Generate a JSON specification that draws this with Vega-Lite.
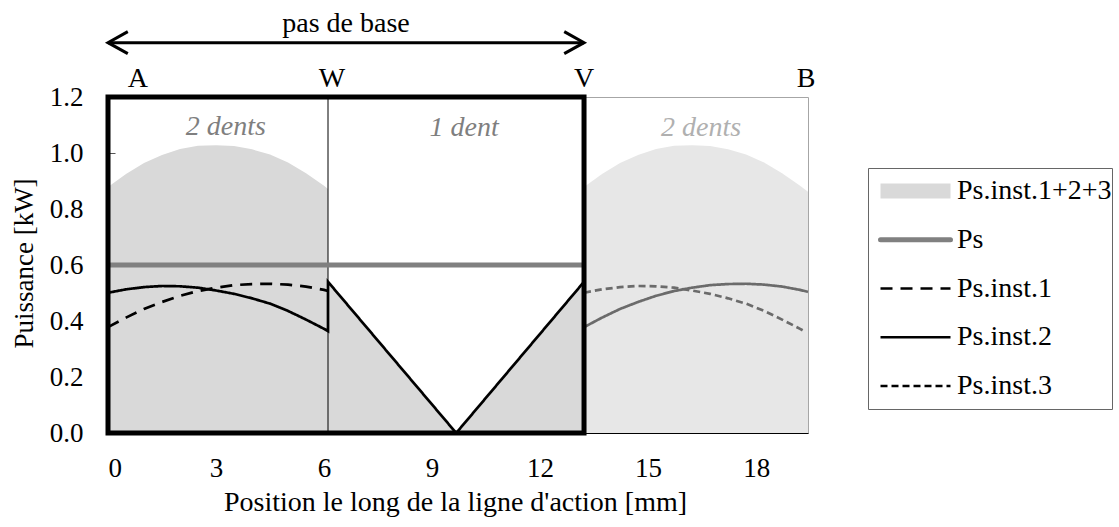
{
  "$schema": "https://vega.github.io/schema/vega-lite/v6.json",
  "width": 700,
  "height": 336,
  "autosize": {"type": "none"},
  "padding": {"left": 108, "top": 97, "right": 311, "bottom": 94},
  "background": "white",
  "config": {
    "view": {"stroke": "#a6a6a6", "strokeWidth": 1},
    "font": "Liberation Serif",
    "legend": {
      "orient": "none", "legendX": 760, "legendY": 71, "padding": 0,
      "symbolType": "stroke", "symbolSize": 4900, "clipHeight": 46, "rowPadding": 2.75,
      "symbolOffset": 5, "labelOffset": -1, "labelFont": "Liberation Serif", "labelFontSize": 28,
      "labelColor": "black", "strokeColor": "#666666", "fillColor": "white", "labelLimit": 400
    }
  },
  "encoding": {
    "x": {
      "field": "x", "type": "quantitative",
      "scale": {"domain": [0, 19.44], "nice": false, "zero": false},
      "axis": {
        "values": [0, 3, 6, 9, 12, 15, 18], "format": "d", "grid": false,
        "tickSize": -7, "tickColor": "#777777", "labelPadding": 29,
        "labelFont": "Liberation Serif", "labelFontSize": 27, "labelColor": "black",
        "domainColor": "black", "domainWidth": 1,
        "title": "Position le long de la ligne d'action [mm]",
        "titleFont": "Liberation Serif", "titleFontSize": 28, "titleFontWeight": "normal", "titleColor": "black",
        "titleX": 347, "titleY": 77, "titleBaseline": "alphabetic", "titleAlign": "center"
      }
    },
    "y": {
      "field": "y", "type": "quantitative",
      "scale": {"domain": [0, 1.2], "nice": false},
      "axis": {
        "values": [0, 0.2, 0.4, 0.6, 0.8, 1.0, 1.2], "format": ".1f", "grid": false,
        "tickSize": -7, "tickColor": "#555555", "labelPadding": 32, "domain": false,
        "labelFont": "Liberation Serif", "labelFontSize": 27, "labelColor": "black",
        "title": "Puissance [kW]",
        "titleFont": "Liberation Serif", "titleFontSize": 27, "titleFontWeight": "normal", "titleColor": "black",
        "titleX": -76, "titleY": 166, "titleAngle": 270, "titleBaseline": "alphabetic", "titleAlign": "center"
      }
    }
  },
  "layer": [
    {
      "data": {"values": [
        {"x": 0, "y": 0.879}, {"x": 0.5, "y": 0.925}, {"x": 1, "y": 0.964},
        {"x": 1.5, "y": 0.993}, {"x": 2, "y": 1.014}, {"x": 2.5, "y": 1.026},
        {"x": 3, "y": 1.028}, {"x": 3.5, "y": 1.025}, {"x": 4, "y": 1.013},
        {"x": 4.5, "y": 0.995}, {"x": 5, "y": 0.966}, {"x": 5.5, "y": 0.928},
        {"x": 6, "y": 0.883}, {"x": 6.11, "y": 0.871}, {"x": 6.111, "y": 0.54},
        {"x": 9.67, "y": 0}, {"x": 13.22, "y": 0.54}
      ]},
      "mark": {"type": "area", "fill": "#d9d9d9"}
    },
    {
      "data": {"values": [
        {"x": 13.22, "y": 0.879}, {"x": 13.72, "y": 0.925}, {"x": 14.22, "y": 0.964},
        {"x": 14.72, "y": 0.993}, {"x": 15.22, "y": 1.014}, {"x": 15.72, "y": 1.026},
        {"x": 16.22, "y": 1.028}, {"x": 16.72, "y": 1.025}, {"x": 17.22, "y": 1.013},
        {"x": 17.72, "y": 0.995}, {"x": 18.22, "y": 0.966}, {"x": 18.72, "y": 0.928},
        {"x": 19.22, "y": 0.883}, {"x": 19.44, "y": 0.862}
      ]},
      "mark": {"type": "area", "fill": "#e7e7e7"}
    },
    {
      "data": {"values": [{"x": 6.11, "y": 0, "y2": 1.2}]},
      "mark": {"type": "rule", "color": "black", "strokeWidth": 1},
      "encoding": {"y2": {"field": "y2"}}
    },
    {
      "data": {"values": [
        {"s": "Ps", "g": "ps", "k": 0, "x": 0, "y": 0.6},
        {"s": "Ps", "g": "ps", "k": 1, "x": 13.22, "y": 0.6},
        {"s": "Ps.inst.1", "g": "i1", "k": 0, "x": 0, "y": 0.378},
        {"s": "Ps.inst.1", "g": "i1", "k": 1, "x": 0.5, "y": 0.412},
        {"s": "Ps.inst.1", "g": "i1", "k": 2, "x": 1, "y": 0.443},
        {"s": "Ps.inst.1", "g": "i1", "k": 3, "x": 1.5, "y": 0.468},
        {"s": "Ps.inst.1", "g": "i1", "k": 4, "x": 2, "y": 0.49},
        {"s": "Ps.inst.1", "g": "i1", "k": 5, "x": 2.5, "y": 0.507},
        {"s": "Ps.inst.1", "g": "i1", "k": 6, "x": 3, "y": 0.519},
        {"s": "Ps.inst.1", "g": "i1", "k": 7, "x": 3.5, "y": 0.528},
        {"s": "Ps.inst.1", "g": "i1", "k": 8, "x": 4, "y": 0.532},
        {"s": "Ps.inst.1", "g": "i1", "k": 9, "x": 4.5, "y": 0.533},
        {"s": "Ps.inst.1", "g": "i1", "k": 10, "x": 5, "y": 0.53},
        {"s": "Ps.inst.1", "g": "i1", "k": 11, "x": 5.5, "y": 0.523},
        {"s": "Ps.inst.1", "g": "i1", "k": 12, "x": 6, "y": 0.511},
        {"s": "Ps.inst.1", "g": "i1", "k": 13, "x": 6.11, "y": 0.507},
        {"s": "Ps.inst.2", "g": "i2", "k": 0, "x": 0, "y": 0.501},
        {"s": "Ps.inst.2", "g": "i2", "k": 1, "x": 0.5, "y": 0.513},
        {"s": "Ps.inst.2", "g": "i2", "k": 2, "x": 1, "y": 0.521},
        {"s": "Ps.inst.2", "g": "i2", "k": 3, "x": 1.5, "y": 0.525},
        {"s": "Ps.inst.2", "g": "i2", "k": 4, "x": 2, "y": 0.524},
        {"s": "Ps.inst.2", "g": "i2", "k": 5, "x": 2.5, "y": 0.519},
        {"s": "Ps.inst.2", "g": "i2", "k": 6, "x": 3, "y": 0.509},
        {"s": "Ps.inst.2", "g": "i2", "k": 7, "x": 3.5, "y": 0.497},
        {"s": "Ps.inst.2", "g": "i2", "k": 8, "x": 4, "y": 0.481},
        {"s": "Ps.inst.2", "g": "i2", "k": 9, "x": 4.5, "y": 0.462},
        {"s": "Ps.inst.2", "g": "i2", "k": 10, "x": 5, "y": 0.436},
        {"s": "Ps.inst.2", "g": "i2", "k": 11, "x": 5.5, "y": 0.405},
        {"s": "Ps.inst.2", "g": "i2", "k": 12, "x": 6, "y": 0.372},
        {"s": "Ps.inst.2", "g": "i2", "k": 13, "x": 6.11, "y": 0.364},
        {"s": "Ps.inst.2", "g": "i2", "k": 14, "x": 6.11, "y": 0.54},
        {"s": "Ps.inst.2", "g": "i2", "k": 15, "x": 9.67, "y": 0},
        {"s": "Ps.inst.2", "g": "i2", "k": 16, "x": 13.22, "y": 0.54}
      ]},
      "mark": {"type": "line", "strokeCap": "butt"},
      "encoding": {
        "color": {
          "field": "s", "type": "nominal",
          "scale": {"domain": ["Ps.inst.1+2+3", "Ps", "Ps.inst.1", "Ps.inst.2", "Ps.inst.3"],
                    "range": ["#d9d9d9", "#808080", "#000000", "#000000", "#000000"]},
          "legend": {"title": null, "encode": {"symbols": {"update": {"strokeCap": {"signal": "datum.value === 'Ps' ? 'round' : 'butt'"}}}}}
        },
        "strokeDash": {
          "field": "s", "type": "nominal",
          "scale": {"domain": ["Ps.inst.1+2+3", "Ps", "Ps.inst.1", "Ps.inst.2", "Ps.inst.3"],
                    "range": [[1, 0], [1, 0], [12, 8], [1, 0], [7, 4]]},
          "legend": {"title": null}
        },
        "strokeWidth": {
          "field": "s", "type": "nominal",
          "scale": {"type": "ordinal", "domain": ["Ps.inst.1+2+3", "Ps", "Ps.inst.1", "Ps.inst.2", "Ps.inst.3"],
                    "range": [15, 5, 2.7, 2.7, 2.7]},
          "legend": {"title": null}
        },
        "detail": {"field": "g"},
        "order": {"field": "k", "type": "quantitative"}
      }
    },
    {
      "data": {"values": [
        {"s": "Ps.inst.2", "g": "f2", "k": 0, "x": 13.22, "y": 0.378},
        {"s": "Ps.inst.2", "g": "f2", "k": 1, "x": 13.72, "y": 0.412},
        {"s": "Ps.inst.2", "g": "f2", "k": 2, "x": 14.22, "y": 0.443},
        {"s": "Ps.inst.2", "g": "f2", "k": 3, "x": 14.72, "y": 0.468},
        {"s": "Ps.inst.2", "g": "f2", "k": 4, "x": 15.22, "y": 0.49},
        {"s": "Ps.inst.2", "g": "f2", "k": 5, "x": 15.72, "y": 0.507},
        {"s": "Ps.inst.2", "g": "f2", "k": 6, "x": 16.22, "y": 0.519},
        {"s": "Ps.inst.2", "g": "f2", "k": 7, "x": 16.72, "y": 0.528},
        {"s": "Ps.inst.2", "g": "f2", "k": 8, "x": 17.22, "y": 0.532},
        {"s": "Ps.inst.2", "g": "f2", "k": 9, "x": 17.72, "y": 0.533},
        {"s": "Ps.inst.2", "g": "f2", "k": 10, "x": 18.22, "y": 0.53},
        {"s": "Ps.inst.2", "g": "f2", "k": 11, "x": 18.72, "y": 0.523},
        {"s": "Ps.inst.2", "g": "f2", "k": 12, "x": 19.22, "y": 0.511},
        {"s": "Ps.inst.2", "g": "f2", "k": 13, "x": 19.44, "y": 0.504},
        {"s": "Ps.inst.3", "g": "f3", "k": 0, "x": 13.22, "y": 0.501},
        {"s": "Ps.inst.3", "g": "f3", "k": 1, "x": 13.72, "y": 0.513},
        {"s": "Ps.inst.3", "g": "f3", "k": 2, "x": 14.22, "y": 0.521},
        {"s": "Ps.inst.3", "g": "f3", "k": 3, "x": 14.72, "y": 0.525},
        {"s": "Ps.inst.3", "g": "f3", "k": 4, "x": 15.22, "y": 0.524},
        {"s": "Ps.inst.3", "g": "f3", "k": 5, "x": 15.72, "y": 0.519},
        {"s": "Ps.inst.3", "g": "f3", "k": 6, "x": 16.22, "y": 0.509},
        {"s": "Ps.inst.3", "g": "f3", "k": 7, "x": 16.72, "y": 0.497},
        {"s": "Ps.inst.3", "g": "f3", "k": 8, "x": 17.22, "y": 0.481},
        {"s": "Ps.inst.3", "g": "f3", "k": 9, "x": 17.72, "y": 0.462},
        {"s": "Ps.inst.3", "g": "f3", "k": 10, "x": 18.22, "y": 0.436},
        {"s": "Ps.inst.3", "g": "f3", "k": 11, "x": 18.72, "y": 0.405},
        {"s": "Ps.inst.3", "g": "f3", "k": 12, "x": 19.22, "y": 0.372},
        {"s": "Ps.inst.3", "g": "f3", "k": 13, "x": 19.33, "y": 0.364}
      ]},
      "mark": {"type": "line", "stroke": "#6b6b6b", "strokeCap": "butt"},
      "encoding": {
        "strokeDash": {
          "field": "s", "type": "nominal",
          "scale": {"domain": ["Ps.inst.1+2+3", "Ps", "Ps.inst.1", "Ps.inst.2", "Ps.inst.3"],
                    "range": [[1, 0], [1, 0], [12, 8], [1, 0], [7, 4]]},
          "legend": {"title": null}
        },
        "strokeWidth": {
          "field": "s", "type": "nominal",
          "scale": {"type": "ordinal", "domain": ["Ps.inst.1+2+3", "Ps", "Ps.inst.1", "Ps.inst.2", "Ps.inst.3"],
                    "range": [15, 5, 2.7, 2.7, 2.7]},
          "legend": {"title": null}
        },
        "detail": {"field": "g"},
        "order": {"field": "k", "type": "quantitative"}
      }
    },
    {
      "data": {"values": [{"x": 0, "x2": 13.22, "y": 0, "y2": 1.2}]},
      "mark": {"type": "rect", "fill": "white", "fillOpacity": 0, "stroke": "black", "strokeWidth": 5, "strokeJoin": "miter"},
      "encoding": {"x2": {"field": "x2"}, "y2": {"field": "y2"}}
    },
    {
      "data": {"values": [
        {"t": "2 dents", "x": 3.27, "y": 1.066},
        {"t": "1 dent", "x": 9.89, "y": 1.062}
      ]},
      "mark": {"type": "text", "font": "Liberation Serif", "fontStyle": "italic", "fontSize": 28, "color": "#7f7f7f", "align": "center", "baseline": "alphabetic"},
      "encoding": {"text": {"field": "t"}}
    },
    {
      "data": {"values": [
        {"t": "2 dents", "x": 16.47, "y": 1.06}
      ]},
      "mark": {"type": "text", "font": "Liberation Serif", "fontStyle": "italic", "fontSize": 28, "color": "#b0b0b0", "align": "center", "baseline": "alphabetic"},
      "encoding": {"text": {"field": "t"}}
    },
    {
      "data": {"values": [
        {"t": "A", "x": 0.83, "y": 1.236},
        {"t": "W", "x": 6.22, "y": 1.236},
        {"t": "V", "x": 13.22, "y": 1.236},
        {"t": "B", "x": 19.39, "y": 1.236},
        {"t": "pas de base", "x": 6.61, "y": 1.432}
      ]},
      "mark": {"type": "text", "font": "Liberation Serif", "fontSize": 28, "color": "black", "align": "center", "baseline": "alphabetic"},
      "encoding": {"text": {"field": "t"}}
    },
    {
      "data": {"values": [{"x": 0, "x2": 13.22, "y": 1.394}]},
      "mark": {"type": "rule", "color": "black", "strokeWidth": 3},
      "encoding": {"x2": {"field": "x2"}}
    },
    {
      "data": {"values": [{"x": 0, "y": 1.394, "d": "L"}, {"x": 13.22, "y": 1.394, "d": "R"}]},
      "mark": {"type": "point", "filled": false, "color": "black", "opacity": 1, "strokeWidth": 3, "size": 484, "strokeJoin": "miter"},
      "encoding": {
        "shape": {"field": "d", "type": "nominal",
                  "scale": {"domain": ["L", "R"], "range": ["M1.8,-1L0,0L1.8,1", "M-1.8,-1L0,0L-1.8,1"]},
                  "legend": null}
      }
    }
  ]
}
